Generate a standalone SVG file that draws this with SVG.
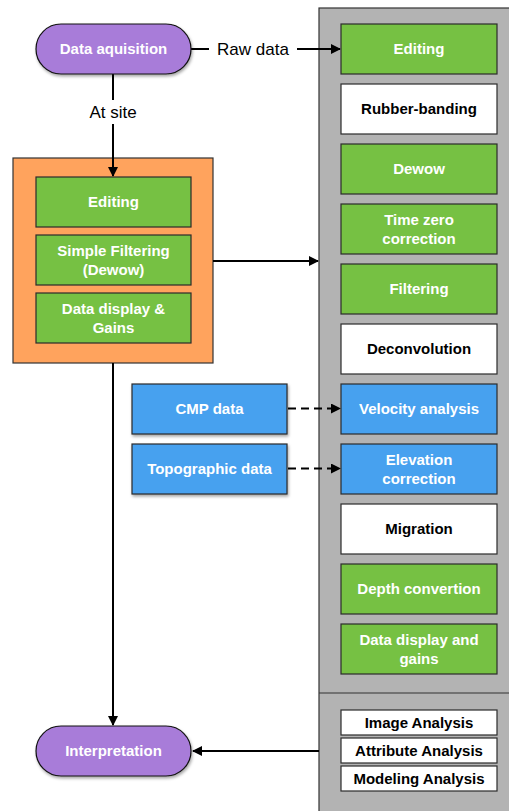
<svg xmlns="http://www.w3.org/2000/svg" width="509" height="811" viewBox="0 0 509 811">
<style>
.t{font-family:"Liberation Sans",Arial,sans-serif;font-weight:bold;font-size:15px;text-anchor:middle;fill:#fff}
.tb{font-family:"Liberation Sans",Arial,sans-serif;font-weight:bold;font-size:15px;text-anchor:middle;fill:#000}
.ts{font-family:"Liberation Sans",Arial,sans-serif;font-weight:bold;font-size:15px;text-anchor:middle;fill:#000}
.lbl{font-family:"Liberation Sans",Arial,sans-serif;font-size:17px;text-anchor:middle;fill:#000}
.g{fill:#76C143;stroke:#2b2b2b;stroke-width:1.2}
.w{fill:#fff;stroke:#2b2b2b;stroke-width:1.2}
.b{fill:#47A1EF;stroke:#2b2b2b;stroke-width:1.2}
.p{fill:#A87BD9;stroke:#111;stroke-width:1.2}
.ln{stroke:#000;stroke-width:2;fill:none}
</style>
<defs>
<marker id="ah" markerWidth="10" markerHeight="10" refX="9" refY="5" orient="auto" markerUnits="userSpaceOnUse">
<path d="M0,0 L10,5 L0,10 Z" fill="#000"/>
</marker>
<filter id="sh" x="-10%" y="-10%" width="130%" height="140%">
<feDropShadow dx="1" dy="2" stdDeviation="1.5" flood-color="#000" flood-opacity="0.35"/>
</filter>
</defs>
<g id="panel">
<rect x="319" y="8" width="200" height="810" fill="#B3B3B3" stroke="#333" stroke-width="1.2"/>
<line x1="319" y1="693" x2="509" y2="693" stroke="#333" stroke-width="1.2"/>
</g>
<g id="orange-box">
<rect x="13" y="158" width="200" height="205" fill="#FFA35D" stroke="#333" stroke-width="1.2"/>
</g>
<g id="connectors">
<line class="ln" x1="191" y1="49" x2="340" y2="49" marker-end="url(#ah)"/>
<rect x="209" y="38" width="88" height="22" fill="#fff"/>
<text class="lbl" x="253" y="55">Raw data</text>
<line class="ln" x1="113" y1="74" x2="113" y2="176" marker-end="url(#ah)"/>
<rect x="83" y="100" width="60" height="24" fill="#fff"/>
<text class="lbl" x="113" y="118">At site</text>
<line class="ln" x1="213" y1="261" x2="318" y2="261" marker-end="url(#ah)"/>
<line class="ln" x1="113" y1="363" x2="113" y2="725" marker-end="url(#ah)"/>
<line class="ln" x1="319" y1="751" x2="193" y2="751" marker-end="url(#ah)"/>
<line class="ln" x1="288" y1="408.5" x2="340" y2="408.5" stroke-dasharray="8,5" marker-end="url(#ah)"/>
<line class="ln" x1="288" y1="468.5" x2="340" y2="468.5" stroke-dasharray="8,5" marker-end="url(#ah)"/>
</g>
<g id="data-aquisition"><rect class="p" x="36" y="24" width="155" height="50" rx="25" filter="url(#sh)"/><text class="t" x="113.5" y="54">Data aquisition</text></g>
<g id="interpretation"><rect class="p" x="36" y="726" width="155" height="50" rx="25" filter="url(#sh)"/><text class="t" x="113.5" y="756">Interpretation</text></g>
<g id="site-editing"><rect class="g" x="36" y="177" width="155" height="50"/><text class="t" x="113.5" y="207">Editing</text></g>
<g id="site-filtering"><rect class="g" x="36" y="235" width="155" height="50"/><text class="t" x="113.5" y="256">Simple Filtering</text><text class="t" x="113.5" y="275">(Dewow)</text></g>
<g id="site-display"><rect class="g" x="36" y="293" width="155" height="50"/><text class="t" x="113.5" y="314">Data display &amp;</text><text class="t" x="113.5" y="333">Gains</text></g>
<g id="cmp"><rect class="b" x="132" y="384" width="155" height="50" filter="url(#sh)"/><text class="t" x="209.5" y="414">CMP data</text></g>
<g id="topo"><rect class="b" x="132" y="444" width="155" height="50" filter="url(#sh)"/><text class="t" x="209.5" y="474">Topographic data</text></g>
<g id="editing"><rect class="g" x="341" y="24" width="156" height="50"/><text class="t" x="419" y="54">Editing</text></g>
<g id="rubber"><rect class="w" x="341" y="84" width="156" height="50"/><text class="tb" x="419" y="114">Rubber-banding</text></g>
<g id="dewow"><rect class="g" x="341" y="144" width="156" height="50"/><text class="t" x="419" y="174">Dewow</text></g>
<g id="timezero"><rect class="g" x="341" y="204" width="156" height="50"/><text class="t" x="419" y="225">Time zero</text><text class="t" x="419" y="244">correction</text></g>
<g id="filtering"><rect class="g" x="341" y="264" width="156" height="50"/><text class="t" x="419" y="294">Filtering</text></g>
<g id="deconvolution"><rect class="w" x="341" y="324" width="156" height="50"/><text class="tb" x="419" y="354">Deconvolution</text></g>
<g id="velocity"><rect class="b" x="341" y="384" width="156" height="50"/><text class="t" x="419" y="414">Velocity analysis</text></g>
<g id="elevation"><rect class="b" x="341" y="444" width="156" height="50"/><text class="t" x="419" y="465">Elevation</text><text class="t" x="419" y="484">correction</text></g>
<g id="migration"><rect class="w" x="341" y="504" width="156" height="50"/><text class="tb" x="419" y="534">Migration</text></g>
<g id="depth"><rect class="g" x="341" y="564" width="156" height="50"/><text class="t" x="419" y="594">Depth convertion</text></g>
<g id="display"><rect class="g" x="341" y="624" width="156" height="50"/><text class="t" x="419" y="645">Data display and</text><text class="t" x="419" y="664">gains</text></g>
<g id="image-analysis"><rect class="w" x="341" y="710" width="156" height="25"/><text class="ts" x="419" y="728">Image Analysis</text></g>
<g id="attribute-analysis"><rect class="w" x="341" y="738" width="156" height="25"/><text class="ts" x="419" y="756">Attribute Analysis</text></g>
<g id="modeling-analysis"><rect class="w" x="341" y="766" width="156" height="25"/><text class="ts" x="419" y="784">Modeling Analysis</text></g>
</svg>
